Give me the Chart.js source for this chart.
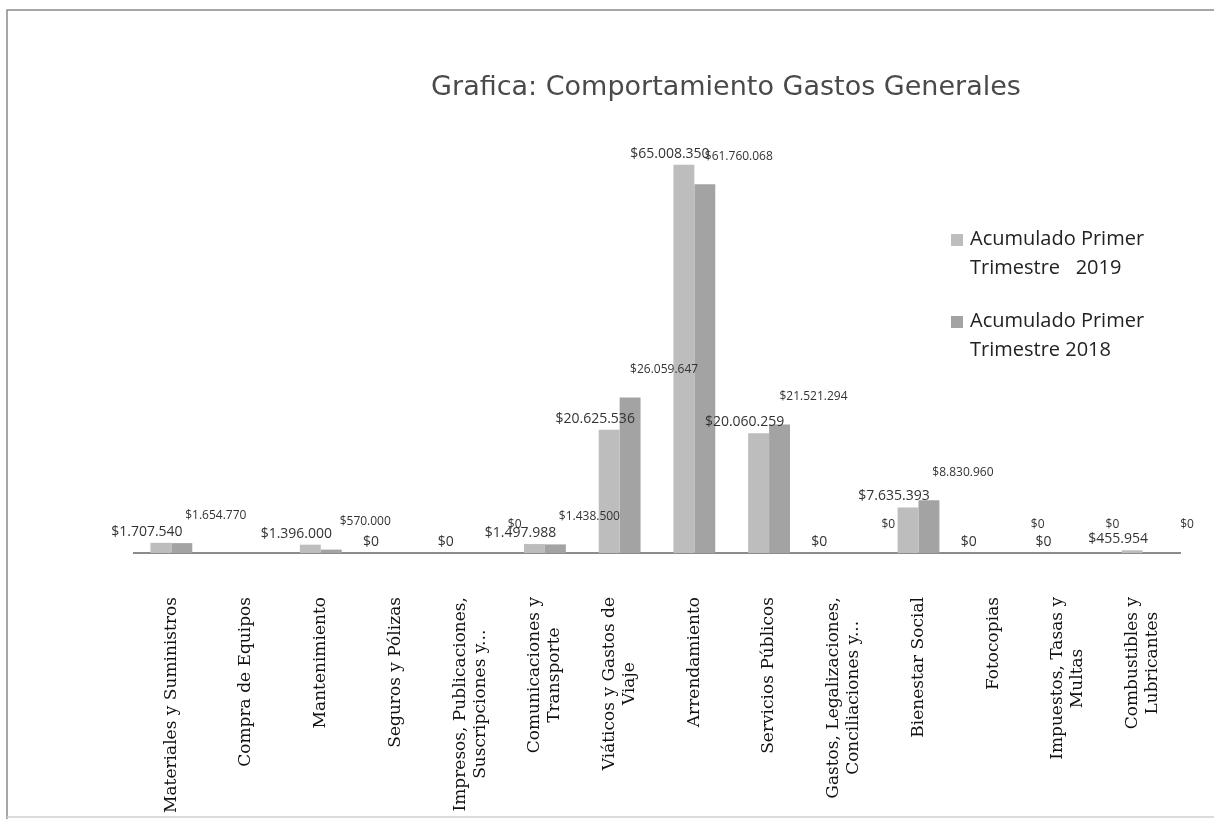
<!DOCTYPE html>
<html>
<head>
<meta charset="utf-8">
<script src="https://cdn.jsdelivr.net/npm/chart.js@4"></script>
<style>
  html, body { margin: 0; padding: 0; background: #fff; }
  #wrap { position: relative; width: 1214px; height: 819px; }
</style>
</head>
<body>
<div id="wrap"><canvas id="gastosChart" width="1214" height="819"></canvas></div>
<script>
// categorias y valores
const categories = [
    ['Materiales y Suministros'],
    ['Compra de Equipos'],
    ['Mantenimiento'],
    ['Seguros y Pólizas'],
    ['Impresos, Publicaciones,', 'Suscripciones y...'],
    ['Comunicaciones y', 'Transporte'],
    ['Viáticos y Gastos de', 'Viaje'],
    ['Arrendamiento'],
    ['Servicios Públicos'],
    ['Gastos, Legalizaciones,', 'Conciliaciones y...'],
    ['Bienestar Social'],
    ['Fotocopias'],
    ['Impuestos, Tasas y', 'Multas'],
    ['Combustibles y', 'Lubricantes']
];
const values2019 = [1707540, null, 1396000, 0, 0, 1497988, 20625536, 65008350, 20060259, 0, 7635393, 0, 0, 455954];
const values2018 = [1654770, null, 570000, null, 0, 1438500, 26059647, 61760068, 21521294, 0, 8830960, 0, 0, 0];
const seriesNames = [['Acumulado Primer', 'Trimestre   2019'], ['Acumulado Primer', 'Trimestre 2018']];

const fmt = v => '$' + Math.round(v).toString().replace(/\B(?=(\d{3})+(?!\d))/g, '.');

// marco del documento escaneado
const framePlugin = {
    id: 'frame',
    beforeDraw(chart) {
        const ctx = chart.ctx;
        ctx.save();
        ctx.fillStyle = '#fff';
        ctx.fillRect(0, 0, chart.width, chart.height);
        ctx.strokeStyle = '#8a8a8a';
        ctx.lineWidth = 1.5;
        ctx.beginPath();
        ctx.moveTo(7, chart.height);
        ctx.lineTo(7, 10);
        ctx.lineTo(chart.width, 10);
        ctx.stroke();
        ctx.strokeStyle = '#d0d0d0';
        ctx.beginPath();
        ctx.moveTo(7, 817);
        ctx.lineTo(chart.width, 817);
        ctx.stroke();
        ctx.restore();
    }
};

// titulo, leyenda y etiquetas del eje x dibujadas a mano
const extrasPlugin = {
    id: 'extras',
    afterDraw(chart) {
        const ctx = chart.ctx;
        const xScale = chart.scales.x;
        ctx.save();

        // titulo
        ctx.fillStyle = '#4a4a4a';
        ctx.font = '27px "DejaVu Sans", sans-serif';
        ctx.textAlign = 'center';
        ctx.textBaseline = 'middle';
        ctx.fillText('Grafica: Comportamiento Gastos Generales', 726, 88);

        // leyenda
        ctx.font = '20px "Open Sans", "Noto Sans", sans-serif';
        ctx.textAlign = 'left';
        chart.data.datasets.forEach((ds, i) => {
            const top = 239 + i * 82;
            ctx.fillStyle = ds.backgroundColor;
            ctx.fillRect(951, top - 5, 12, 12);
            ctx.fillStyle = '#222';
            seriesNames[i].forEach((line, j) => ctx.fillText(line, 970, top + j * 29));
        });

        // etiquetas de categoria, rotadas y centradas entre lineas
        ctx.font = '17px "DejaVu Serif", serif';
        ctx.fillStyle = '#111';
        categories.forEach((lines, i) => {
            const x = xScale.getPixelForTick(i);
            const widths = lines.map(l => ctx.measureText(l).width);
            const w = Math.max(...widths);
            ctx.save();
            ctx.translate(x, xScale.bottom + 44);
            ctx.rotate(-Math.PI / 2);
            ctx.textAlign = 'center';
            ctx.textBaseline = 'middle';
            const lh = 20;
            const y0 = -(lines.length - 1) * lh / 2;
            lines.forEach((l, j) => ctx.fillText(l, -w / 2, y0 + j * lh));
            ctx.restore();
        });

        // etiquetas de datos
        chart.data.datasets.forEach((ds, di) => {
            const meta = chart.getDatasetMeta(di);
            ctx.font = di === 0 ? '14px "Open Sans", sans-serif' : '12px "Open Sans", sans-serif';
            ctx.fillStyle = '#333';
            ctx.textAlign = 'center';
            ctx.textBaseline = 'bottom';
            meta.data.forEach((bar, i) => {
                const v = ds.data[i];
                if (v === null || v === undefined) return;
                const dx = di === 0 ? -14 : 34;
                const dy = di === 0 ? 4 : 22;
                ctx.fillText(fmt(v), bar.x + dx, bar.y - dy);
            });
        });
        ctx.restore();
    }
};

new Chart(document.getElementById('gastosChart'), {
    type: 'bar',
    data: {
        labels: categories.map(c => c.join(' ')),
        datasets: [
            { label: seriesNames[0].join(' '), data: values2019, backgroundColor: '#bdbdbd', borderWidth: 0 },
            { label: seriesNames[1].join(' '), data: values2018, backgroundColor: '#a3a3a3', borderWidth: 0 }
        ]
    },
    options: {
        responsive: false,
        animation: false,
        layout: { padding: { left: 134, right: 34, top: 135, bottom: 266 } },
        plugins: {
            legend: { display: false },
            title: { display: false },
            tooltip: { enabled: false }
        },
        datasets: { bar: { categoryPercentage: 0.56, barPercentage: 1.0 } },
        scales: {
            x: {
                grid: { display: false, drawTicks: false },
                ticks: { display: false },
                border: { display: true, color: '#8c8c8c', width: 2 }
            },
            y: {
                display: false,
                min: 0,
                max: 70000000
            }
        }
    },
    plugins: [framePlugin, extrasPlugin]
});
</script>
</body>
</html>
